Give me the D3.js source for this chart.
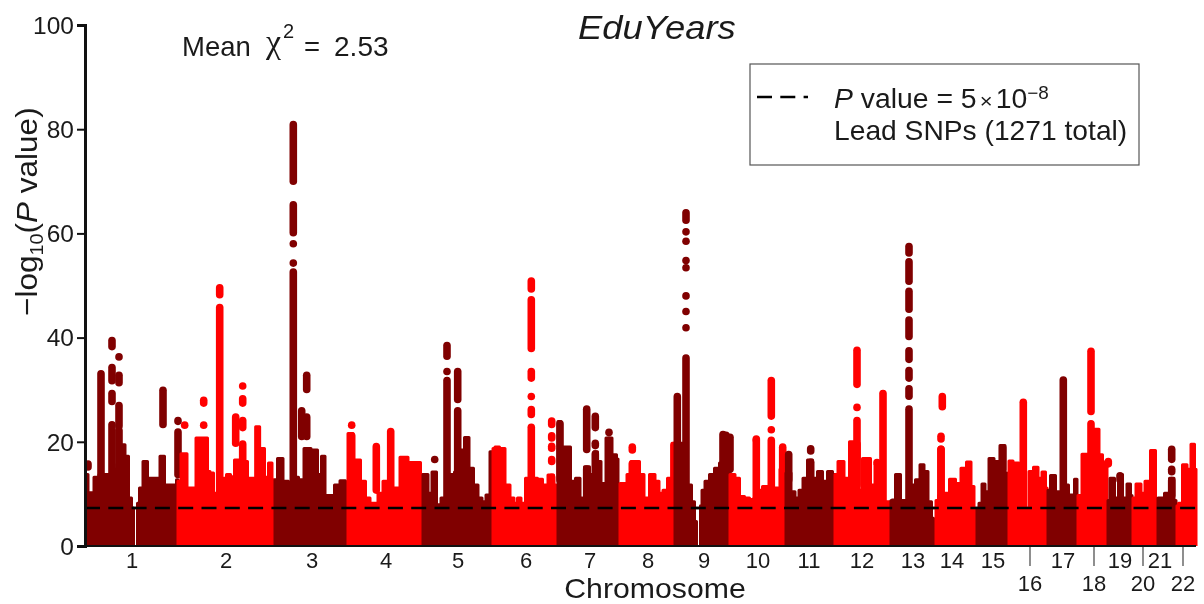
<!DOCTYPE html>
<html><head><meta charset="utf-8">
<script src="https://cdn.jsdelivr.net/npm/d3@7/dist/d3.min.js"></script>
<style>
html,body{margin:0;padding:0;background:#fff;overflow:hidden}
svg{display:block;filter:blur(0.45px)}
text{font-family:"Liberation Sans",Arial,sans-serif;fill:#1a1a1a}
</style></head><body>
<svg id="c" width="1204" height="604"></svg>
<script>
// genome position units along the x axis (0 = start of chromosome 1)
const chromNames=["1","2","3","4","5","6","7","8","9","10","11","12","13","14","15","16","17","18","19","20","21","22"];
const labelPos=[47,141,227,301,373,441,505,563,619,673,724,777,828,867,908,945,978,1009,1035,1058,1075,1098];
const loweredLabels=["16","18","20","22"];
const yTicks=[0,20,40,60,80,100];
const threshold=7.3;

// skyline of the dense part of each chromosome: [position, -log10 P]
const hills=[
 [[0,14],[6,10.5],[12,13.5],[16,14],[21,14],[26,14],[30,15],[34,16],[38,19.7],[42,17.5],[45,9.5],[48,7.6],[49,0],[52,0],[53,8.5],[56,11.4],[60,16.5],[65,13.3],[73,13.3],[77,17.5],[82,12],[90,12],[93,13]],
 [[93,12.7],[99,18],[105,11.4],[110,11.4],[112,21],[122,21],[123,14.6],[127,14.3],[130,10.4],[133,10],[137,12],[140,13.3],[143,14],[148,13.6],[151,16.8],[155,16.8],[160,16.5],[165,13.3],[169,13.3],[172.3,23.2],[177,19],[182,13.5],[185,16.2],[189,13]],
 [[190,13],[195,17.1],[201,12.7],[206,12],[211,13.5],[216,13],[222,19],[230,18.7],[235,14],[238,17.5],[242,10],[247,10],[252,12],[258,12.8],[263,12.5]],
 [[263,21.9],[273,16.8],[278,12.7],[283,9.5],[287,8.5],[291,8.5],[295,10.4],[301,12.7],[311,11.4],[319,17.3],[327,16.3],[333,16.3],[338,14]],
 [[338,14],[341,14],[345,10.4],[349,14.5],[354,8.2],[358,9.5],[367,14],[372,14.5],[377,18.7],[382,21.1],[386,15.2],[391,12],[395,9.5],[399,8.8],[403,10.1],[407,18.4]],
 [[408,19],[412,19.3],[417,19],[423,12],[427,9.5],[431,8.5],[434,9.5],[438,8.5],[443,13.3],[450,13.3],[455,13.1],[460,12],[466,13.9],[471,12]],
 [[473,24.2],[479,19.3],[483,19.3],[488,12.7],[493,13.3],[497,9.5],[502,15.5],[507,14],[511,18.4],[514,16.5],[518,12.3],[524,21],[530,17.8],[533,17]],
 [[535,12.3],[540,12.3],[544,14],[548,16.5],[552,16.5],[557,14],[561,9.5],[568,14],[572,12.7],[576,10.4],[580,11],[585,13.3],[589,20],[591,13.3]],
 [[592,20],[597,20],[605,12],[608,8.8],[611,5],[612,0],[615,0],[616,8],[618,11],[622,12.7],[627,14],[632,15.2],[637,16.2],[642,16.2],[645,15]],
 [[645,14],[648,14],[652,13.3],[657,9.8],[662,9.5],[667,9.2],[671,9.5],[675,11],[680,11.7],[685,11.7],[692,11.4],[698,15],[701,11]],
 [[701,14.3],[704,14.3],[708,10.7],[712,9.5],[716,11],[720,13.3],[725,16.8],[730,13.3],[735,14.6],[740,12.7],[745,14.6],[750,14]],
 [[750,14],[756,16.5],[762,13.3],[767,20.3],[772,11],[783,17.1],[788,12],[792,16],[803,8.8],[805,8.8]],
 [[806,9],[808,9.1],[813,14],[818,9],[828,12],[833,13],[837,15.9],[841,14.6],[845,8.8],[848,5.6],[849,0]],
 [[851,9],[856,10],[861,10.4],[868,13.1],[873,12.3],[879,15.2],[884,16.4],[888,11.7],[890,7.5],[891,0]],
 [[892,7.5],[896,8.5],[898,12.2],[902,10.7],[906,17.1],[912,16.5],[918,19.6],[922,14.3]],
 [[924,16.6],[932,16.2],[936,15.5],[938,8],[942,7.5],[946,14.6],[951,15.4],[955,13.3],[959,14.5],[962,11.4]],
 [[963,11],[968,13.8],[973,10.7],[980,12],[987,10.1],[992,13.1]],
 [[993,10],[1001,17.9],[1007,18],[1012,22.7],[1016,17.8],[1019,12],[1022,16.5]],
 [[1023,9],[1027,13.3],[1032,9.5],[1035,14],[1040,9.5],[1044,12.2],[1047,10]],
 [[1048,9.5],[1054,12.2],[1058,10.4],[1062,12.7],[1069,18.6],[1072,9]],
 [[1073,9.5],[1077,9.5],[1082,10.4],[1087,13.3],[1091,9]],
 [[1092,8],[1095,8.5],[1100,15.9],[1104,15],[1108,19.8],[1111,15]]
];

// tall solid columns rising from the dense part: [chromosome index, position, top]
const columns=[
 [0,16,33.8],[0,27,24],[0,34,22.9],[1,134.7,46.5],[2,208.3,53.3],[4,362,32.5],[4,372.7,26.7],[5,446.3,23.5],
 [7,589,20],[8,592.3,29.4],[8,601,36.8],[11,772,20.3],[11,798,30],[12,824,27],[15,938.3,28.3],[16,978.3,32.6],[17,1006,24.2],[13,856,19.3],[9,686.3,21],[9,671.3,21]
];

// runs and single dots of significant SNPs: [chromosome index, position, upper, lower]
const hits=[
 [0,3,15.9,15],[0,27,39,38.7],[0,27,35,31],[0,27,30,27],[0,34,36.3,36.3],[0,34,33.5,30.6],[0,34,27.7,22.3],[0,78,30.6,22.6],[0,93,24.8,23.2],[0,93,22.6,13],
 [1,99.7,23.2,23.2],[1,118.7,28.7,26.7],[1,118.7,23.2,23.2],[1,134.7,50.3,47.5],[1,150.7,25.5,19],[1,157.7,30.7,30.7],[1,157.7,29,26.7],[1,157.7,24.8,22],[1,157.7,20.3,14],[1,176.7,19,13],
 [2,208.3,81.6,69.3],[2,208.3,66.2,59.4],[2,208.3,58,58],[2,208.3,54.3,54.3],[2,216.7,26.7,20.3],[2,221.7,33.5,29.3],[2,221.7,25.5,20.3],
 [3,266.7,23.2,23.2],[3,266.7,21.9,16],[3,291.3,19.8,10],[3,305.7,22.7,10],
 [4,349.7,16.6,16.6],[4,362,39.2,35.7],[4,362,33.5,33.5],[4,372.7,34.2,27.4],
 [5,446.3,51.6,48.6],[5,446.3,48,37.2],[5,446.3,34.2,31.5],[5,446.3,28.7,28.7],[5,446.3,26.9,24.5],[5,466.7,24.7,22.6],[5,466.7,21.9,20],[5,466.7,19.5,18.4],[5,466.7,17.3,15.5],[5,466.7,13.9,9],
 [6,475,24.2,12],[6,501.7,27,17.8],[6,501.7,15.5,9],[6,510.3,25.6,22],[6,510.3,20,19],[6,510.3,18.4,12],[6,524,21.8,21.8],[6,524,21,12],
 [7,547.3,19.7,17.7],[7,547.3,16.5,10],
 [8,601,64.7,61.8],[8,601,60.3,60.3],[8,601,58.5,58.5],[8,601,54.8,54.8],[8,601,53.4,53.4],[8,601,48,48],[8,601,45,45],[8,601,41.9,41.9],[8,638,22.1,14],[8,641,22,14],[8,645,21.6,14],
 [9,671.3,21.1,19.8],[9,686.3,32.5,24.2],[9,686.3,22.3,22.3],[9,697.7,19.7,11],
 [10,703.7,18.3,12],[10,725.7,19.4,17.5],[10,725.7,16.8,10],
 [11,772,38.3,30.3],[11,772,26.6,26.6],[11,772,24.8,11],[11,792,16,16],
 [12,824,58.2,55.5],[12,824,55.3,50.1],[12,824,49.6,44.7],[12,824,44.1,39.5],[12,824,38.2,35.1],[12,824,34.4,31.5],[12,824,30.9,28],
 [13,857.3,29.4,26],[13,856,21.8,19.8],[13,856,19.3,9],
 [14,917.7,19.6,14],
 [17,1006,38.1,25.1],[17,1023.3,16.5,15.5],
 [18,1035,14.2,12],
 [20,1086.7,19.3,15.9],[20,1086.7,15,14],[20,1086.7,13.3,9]
];

const r=3.8, hillStroke=3;
const x=d3.scaleLinear().domain([0,1112]).range([85,1197]);
const y=d3.scaleLinear().domain([0,100]).range([546,25]);
const colors=["#800000","#ff0000"];
const svg=d3.select("#c");
svg.append("defs").append("clipPath").attr("id","plot").append("rect").attr("x",84).attr("y",0).attr("width",1120).attr("height",546);
const plot=svg.append("g").attr("clip-path","url(#plot)");

plot.append("line").attr("x1",x(0)).attr("x2",x(1111)).attr("y1",y(threshold)).attr("y2",y(threshold)).attr("stroke","#000").attr("stroke-width",2.4);

const area=d3.area().x(d=>x(d[0])).y0(y(0)+5).y1(d=>y(d[1])+hillStroke/2).curve(d3.curveStep);
hills.forEach((h,i)=>{
  const col=colors[i%2];
  const g=plot.append("g");
  g.append("path").attr("d",area(h)).attr("fill",col).attr("stroke",col).attr("stroke-width",hillStroke).attr("stroke-linejoin","round");
  g.selectAll("line.col").data(columns.filter(c=>c[0]===i)).join("line").attr("class","col")
    .attr("x1",d=>x(d[1])).attr("x2",d=>x(d[1])).attr("y1",y(0)).attr("y2",d=>y(d[2])+r)
    .attr("stroke",col).attr("stroke-width",2*r).attr("stroke-linecap","round");
  g.selectAll("line.hit").data(hits.filter(c=>c[0]===i)).join("line").attr("class","hit")
    .attr("x1",d=>x(d[1])).attr("x2",d=>x(d[1]))
    .attr("y1",d=>d[2]===d[3]?y(d[2]):y(d[2])+r).attr("y2",d=>d[2]===d[3]?y(d[3]):y(d[3])-r)
    .attr("stroke",col).attr("stroke-width",2*r).attr("stroke-linecap","round");
});

plot.append("line").attr("x1",x(0)).attr("x2",x(1111)).attr("y1",y(threshold)).attr("y2",y(threshold))
  .attr("stroke","#000").attr("stroke-width",2.4).attr("stroke-dasharray","15 8.3");

// axes
const ax=svg.append("g").attr("transform","translate(85,0)").call(d3.axisLeft(y).tickValues(yTicks).tickSize(8).tickPadding(3));
ax.select(".domain").attr("stroke","#111").attr("stroke-width",3);
ax.selectAll(".tick line").attr("stroke","#111").attr("stroke-width",2);
ax.selectAll(".tick text").attr("font-size",24.5).attr("font-family","Liberation Sans").attr("fill","#1a1a1a").attr("dy","0.34em");
svg.append("line").attr("x1",84).attr("x2",1196).attr("y1",546).attr("y2",546).attr("stroke","#111").attr("stroke-width",2.2);

chromNames.forEach((n,i)=>{
  const low=loweredLabels.includes(n);
  if(low) svg.append("line").attr("x1",x(labelPos[i])).attr("x2",x(labelPos[i])).attr("y1",547).attr("y2",566).attr("stroke","#444").attr("stroke-width",1.2);
  svg.append("text").attr("x",x(labelPos[i])).attr("y",low?591:568).attr("text-anchor","middle").attr("font-size",22).text(n);
});

function label(tx,ty,size,txt,opts={}){
  return svg.append("text").attr("transform",`translate(${tx},${ty}) scale(${opts.sx||1},1)`)
    .attr("font-size",size).attr("font-style",opts.italic?"italic":null).attr("text-anchor",opts.anchor||"start").text(txt);
}
label(655,598,27.5,"Chromosome",{anchor:"middle",sx:1.1});
label(578,39,34,"EduYears",{italic:true,sx:1.07});
label(182,56,27.5,"Mean");
label(266,53,34,"χ").style("font-family","Liberation Serif");
label(283,38,20,"2");
label(304,56,27.5,"=");
label(334,56,27.5,"2.53",{sx:1.02});

// y title
const yt=svg.append("text").attr("transform","translate(37,316) rotate(-90) scale(1.05,1)").attr("font-size",30);
yt.append("tspan").text("−log");
yt.append("tspan").attr("font-size",19).attr("dy",6).text("10");
yt.append("tspan").attr("dy",-6).text("(");
yt.append("tspan").attr("font-style","italic").text("P");
yt.append("tspan").text(" value)");

// legend
svg.append("rect").attr("x",750).attr("y",64).attr("width",389).attr("height",101).attr("fill","none").attr("stroke","#555").attr("stroke-width",1.2);
svg.append("line").attr("x1",757).attr("x2",808).attr("y1",97).attr("y2",97).attr("stroke","#000").attr("stroke-width",2.6).attr("stroke-dasharray","15 8.3");
const l1=svg.append("text").attr("transform","translate(834,108) scale(1.05,1)").attr("font-size",27);
l1.append("tspan").attr("font-style","italic").text("P");
l1.append("tspan").text(" value = 5");
l1.append("tspan").attr("font-size",21).attr("dx",3).text("×");
l1.append("tspan").attr("dx",3).text("10");
l1.append("tspan").attr("font-size",18).attr("dy",-9).text("−8");
label(834,140,27,"Lead SNPs (1271 total)",{sx:1.045});
</script>
</body></html>
